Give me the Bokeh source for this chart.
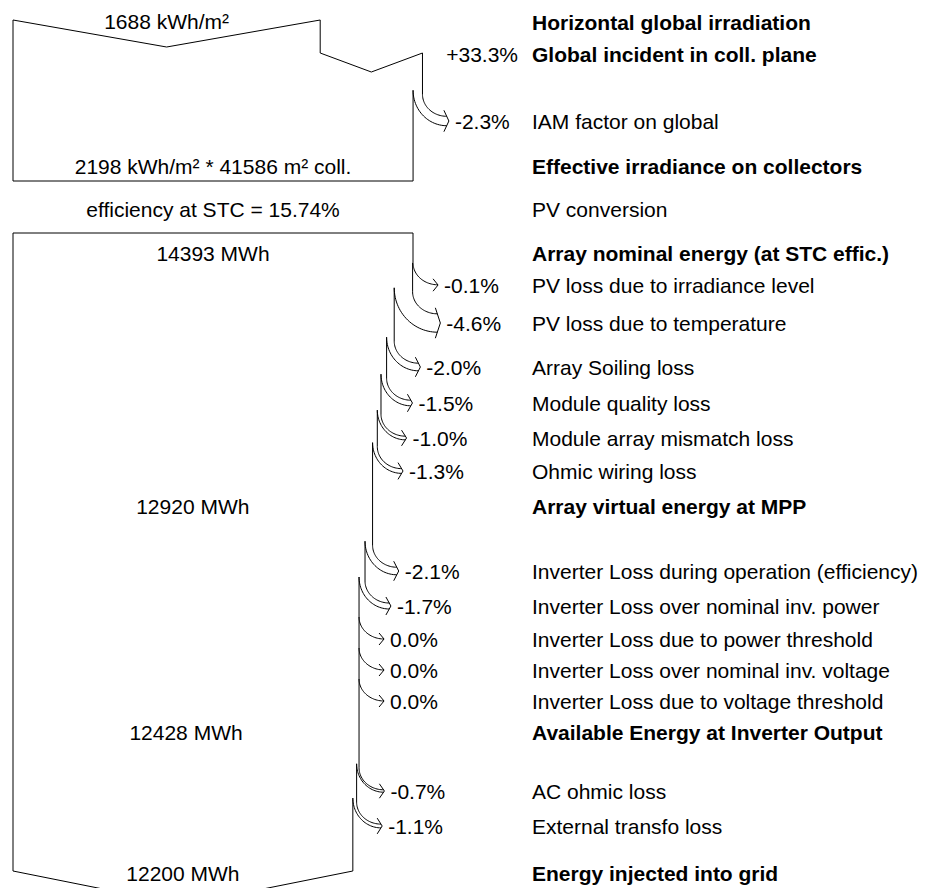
import numpy as np
from bokeh.plotting import figure
from bokeh.models import Range1d
from bokeh.embed import file_html
from bokeh.resources import INLINE
from bokeh.core.properties import value

# ---------------- data ----------------
ghi_kwh = 1688
transposition_gain_pct = 33.3
iam_loss_pct = -2.3
eff_irr_kwh = 2198
coll_area_m2 = 41586
stc_eff_pct = 15.74
nominal_mwh = 14393
array_loss_pct = [-0.1, -4.6, -2.0, -1.5, -1.0, -1.3]
array_loss_labels = ["PV loss due to irradiance level", "PV loss due to temperature",
                     "Array Soiling loss", "Module quality loss",
                     "Module array mismatch loss", "Ohmic wiring loss"]
mpp_mwh = 12920
inverter_loss_pct = [-2.1, -1.7, 0.0, 0.0, 0.0]
inverter_loss_labels = ["Inverter Loss during operation (efficiency)",
                        "Inverter Loss over nominal inv. power",
                        "Inverter Loss due to power threshold",
                        "Inverter Loss over nominal inv. voltage",
                        "Inverter Loss due to voltage threshold"]
inv_out_mwh = 12428
grid_loss_pct = [-0.7, -1.1]
grid_loss_labels = ["AC ohmic loss", "External transfo loss"]
grid_mwh = 12200
step_labels = ["Horizontal global irradiation", "Global incident in coll. plane",
               "IAM factor on global", "Effective irradiance on collectors",
               "PV conversion", "Array nominal energy (at STC effic.)",
               "Array virtual energy at MPP", "Available Energy at Inverter Output",
               "Energy injected into grid"]

# ---------------- layout (pixel positions) ----------------
X_LEFT = 12
FLOW_W = 400
X_TEXT = 531
Y_TOP1, Y_STEP, Y_BOT1 = 19, 52, 180
V1_DEPTH, V2_DEPTH, V3_DEPTH = 27, 19, 34
Y_GHI, Y_GI, Y_IAM, Y_EFF, Y_CONV = 21, 53, 120, 165, 208
Y_TOP2, Y_NOM = 232, 252
array_rows = [284, 322, 366, 402, 437, 470]
Y_MPP = 505
inverter_rows = [570, 605, 638, 669, 700]
Y_INV = 731
grid_rows = [790, 825]
Y_GRID, Y_BOT2 = 872, 870
RY = 22
FONT = value("Liberation Sans")
FS = "21px"

segs_x, segs_y = [], []


def seg(xs, ys):
    segs_x.append(list(xs))
    segs_y.append(list(ys))


def arc(xa, ya, xb, yb, n=30):
    t = np.linspace(0, np.pi / 2, n)
    return xb - (xb - xa) * np.cos(t), ya + (yb - ya) * np.sin(t)


pct_x, pct_y, pct_t = [], [], []


def fmt_pct(v):
    return "0.0%" if v == 0 else f"{v:+.1f}%"


def loss_arrows(edge, y_start, losses, rows):
    for pct, yc in zip(losses, rows):
        w = (edge - X_LEFT) * (-pct / 100.0)
        new = edge - w
        tip = edge + 25 + 0.15 * w
        h = w / 2
        ch = h + 6
        d = 5
        xe = tip - d * h / ch
        ys_out = yc - h - RY
        ys_in = ys_out - 4
        seg([edge, edge], [y_start, ys_out])
        seg(*arc(edge, ys_out, xe, yc - h))
        if w >= 0.5:
            seg(*arc(new, ys_in, xe, yc + h))
            y_start = ys_in
        else:
            y_start = ys_out
        seg([tip - d, tip, tip - d], [yc - ch, yc, yc + ch])
        pct_x.append(tip + 6)
        pct_y.append(yc)
        pct_t.append(fmt_pct(pct))
        edge = new
    return edge, y_start


# ---- irradiance block ----
k_irr = FLOW_W / eff_irr_kwh
x_ghi = X_LEFT + ghi_kwh * k_irr
x_gi = X_LEFT + (x_ghi - X_LEFT) * (1 + transposition_gain_pct / 100)
seg([X_LEFT, X_LEFT, (X_LEFT + x_ghi) / 2, x_ghi, x_ghi, (x_ghi + x_gi) / 2, x_gi],
    [Y_BOT1, Y_TOP1, Y_TOP1 + V1_DEPTH, Y_TOP1, Y_STEP, Y_STEP + V2_DEPTH, Y_STEP])
edge, ys = loss_arrows(x_gi, Y_STEP, [iam_loss_pct], [Y_IAM])
seg([X_LEFT, edge, edge], [Y_BOT1, Y_BOT1, ys])
x_eff = edge

# ---- energy block ----
edge = X_LEFT + FLOW_W
x_nom = edge
seg([X_LEFT, x_nom], [Y_TOP2, Y_TOP2])
edge, ys = loss_arrows(edge, Y_TOP2, array_loss_pct, array_rows)
x_mpp = edge
edge, ys = loss_arrows(edge, ys, inverter_loss_pct, inverter_rows)
x_inv = edge
edge, ys = loss_arrows(edge, ys, grid_loss_pct, grid_rows)
x_grid = edge
seg([edge, edge, (X_LEFT + edge) / 2, X_LEFT, X_LEFT],
    [ys, Y_BOT2, Y_BOT2 + V3_DEPTH, Y_BOT2, Y_TOP2])

# ---------------- figure ----------------
p = figure(width=925, height=888, x_range=Range1d(-0.5, 924.5), y_range=Range1d(887.5, -0.5),
           output_backend="svg", toolbar_location=None, min_border=0,
           x_axis_location=None, y_axis_location=None)
p.grid.visible = False
p.outline_line_color = None
p.background_fill_color = "white"
p.border_fill_color = "white"

p.multi_line(segs_x, segs_y, line_color="black", line_width=1)

# loss percentages
p.text(pct_x, pct_y, text=pct_t, text_font=FONT, text_font_size=FS,
       text_baseline="middle", text_align="left", text_color="black")
p.text([X_TEXT - 14], [Y_GI], text=[fmt_pct(transposition_gain_pct)], text_font=FONT,
       text_font_size=FS, text_baseline="middle", text_align="right", text_color="black")

# right column: bold step labels
bold_y = [Y_GHI, Y_GI, Y_EFF, Y_NOM, Y_MPP, Y_INV, Y_GRID]
bold_t = [step_labels[i] for i in (0, 1, 3, 5, 6, 7, 8)]
p.text([X_TEXT] * len(bold_y), bold_y, text=bold_t, text_font=FONT, text_font_size=FS,
       text_font_style="bold", text_baseline="middle", text_align="left", text_color="black")

# right column: regular labels
reg_t = [step_labels[2], step_labels[4]] + array_loss_labels + inverter_loss_labels + grid_loss_labels
reg_y = [Y_IAM, Y_CONV] + array_rows + inverter_rows + grid_rows
p.text([X_TEXT] * len(reg_y), reg_y, text=reg_t, text_font=FONT, text_font_size=FS,
       text_baseline="middle", text_align="left", text_color="black")

# values inside the flow
val_x = [(X_LEFT + x_ghi) / 2, (X_LEFT + x_eff) / 2, (X_LEFT + x_eff) / 2,
         (X_LEFT + x_nom) / 2, (X_LEFT + x_mpp) / 2, (X_LEFT + x_inv) / 2, (X_LEFT + x_grid) / 2]
val_y = [Y_GHI - 1, Y_EFF, Y_CONV, Y_NOM, Y_MPP, Y_INV, Y_GRID]
val_t = [f"{ghi_kwh} kWh/m²",
         f"{eff_irr_kwh} kWh/m² * {coll_area_m2} m² coll.",
         f"efficiency at STC = {stc_eff_pct:.2f}%",
         f"{nominal_mwh} MWh", f"{mpp_mwh} MWh", f"{inv_out_mwh} MWh", f"{grid_mwh} MWh"]
p.text(val_x, val_y, text=val_t, text_font=FONT, text_font_size=FS,
       text_baseline="middle", text_align="center", text_color="black")

open("out.html", "w").write(file_html(p, INLINE))
